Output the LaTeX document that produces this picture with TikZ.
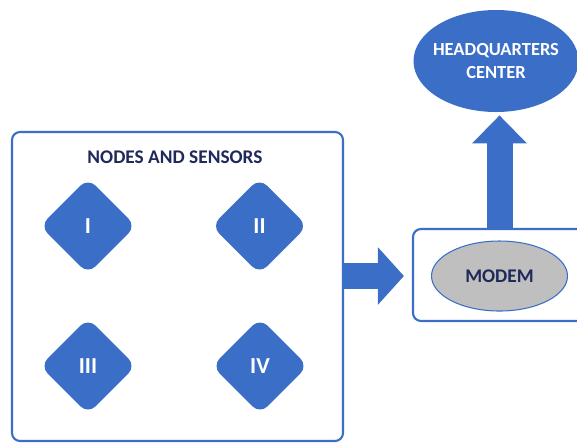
\documentclass[tikz,border=0pt]{standalone}
\usepackage{fontspec}
\setmainfont{Carlito}
\usetikzlibrary{shapes.geometric,arrows.meta}
\definecolor{nodeblue}{RGB}{59,111,199}
\definecolor{textnavy}{RGB}{31,41,90}
\definecolor{modemgray}{RGB}{191,191,191}

\begin{document}
\begin{tikzpicture}[scale=0.2]
\tikzstyle{every node}+=[inner sep=0pt, font=\fontsize{11}{13.5}\selectfont\bfseries]
\tikzstyle{panel}=[draw=nodeblue, line width=1.2pt, rounded corners=0.16cm, fill=white]
\tikzstyle{sensor}=[diamond, fill=nodeblue, text=white, minimum width=1.92cm, minimum height=1.92cm, aspect=1, rounded corners=6pt, font=\fontsize{13}{15}\selectfont\bfseries]
\tikzstyle{flow}=[nodeblue, line width=0.52cm]
\useasboundingbox (0,0) rectangle (57.7,-44.3);
\clip (0,0) rectangle (57.7,-44.3);
% boxes
\node [panel, minimum width=6.62cm, minimum height=6.18cm] (sensors) at (17.75,-28.65) {};
\node [text=textnavy] (title) at (17.5,-15.7) {NODES AND SENSORS};
\node [panel, minimum width=3.48cm, minimum height=1.84cm] (modembox) at (50,-27.5) {};
% sensors
\node [sensor] (s1) at (8.8,-22.6) {I};
\node [sensor] (s2) at (25.95,-22.6) {II};
\node [sensor] (s3) at (8.8,-36.6) {III};
\node [sensor] (s4) at (26,-36.6) {IV};
% modem and headquarters
\node [ellipse, draw=nodeblue, line width=0.6pt, fill=modemgray, text=textnavy, minimum width=2.72cm, minimum height=1.4cm] (modem) at (49.95,-27.6) {MODEM};
\node [ellipse, fill=nodeblue, minimum width=3.3cm, minimum height=2.04cm,
  label={[text=white, align=center, font=\fontsize{10.5}{13.5}\selectfont\bfseries]center:HEADQUARTERS\\CENTER}] (hq) at (49.6,-6.1) {};
% arrows
\draw [flow, -{Triangle[width=1.12cm, length=0.52cm]}, shorten >=0.16cm] (sensors.east |- modem) -- (modembox.west |- modem);
\draw [flow, -{Triangle[width=1.06cm, length=0.56cm]}, shorten >=0.06cm] (modembox.north -| modem) -- (hq.south -| modem);
\end{tikzpicture}
\end{document}
